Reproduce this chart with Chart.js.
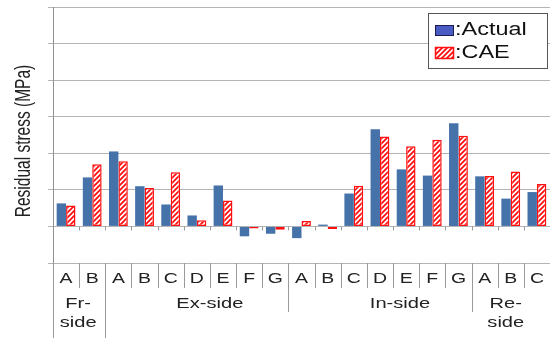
<!DOCTYPE html>
<html>
<head>
<meta charset="utf-8">
<script src="https://cdn.jsdelivr.net/npm/chart.js@4"></script>
<style>
  html, body { margin: 0; padding: 0; background: #fff; }
  #wrap { position: relative; width: 550px; height: 341px; }
</style>
</head>
<body>
<div id="wrap"><canvas id="chart" width="550" height="341"></canvas></div>
<script>
// --- data (1 unit = 1 gridline) ---
const categories = ['A','B','A','B','C','D','E','F','G','A','B','C','D','E','F','G','A','B','C'];
const groupNames = [['Fr-','side'], ['Ex-side'], ['In-side'], ['Re-','side']];
const groupSizes = [2, 7, 7, 3];
const actualValues = [0.63, 1.34, 2.05, 1.10, 0.60, 0.30, 1.12, -0.27, -0.20, -0.32, 0.05, 0.90, 2.66, 1.56, 1.39, 2.82, 1.37, 0.76, 0.94];
const caeValues = [0.57, 1.70, 1.78, 1.05, 1.48, 0.17, 0.71, -0.06, -0.09, 0.15, -0.07, 1.11, 2.46, 2.19, 2.37, 2.48, 1.38, 1.50, 1.16];
const seriesNames = [':Actual', ':CAE'];
const yTitle = 'Residual stress (MPa)';

const FONT = '"Liberation Sans", Arial, sans-serif';
const STRETCH = 1.34; // the source image is squeezed wider than tall

// layout tweaks for the group row (Excel doesn't quite center them)
const groupShift = [-1, 13, 20, -5];
const groupLineEnd = [338, 338, 312, 312];

// red "/" hatch like Excel's wide upward diagonal
function makeHatch() {
    const c = document.createElement('canvas');
    c.width = 5; c.height = 5;
    const g = c.getContext('2d');
    g.fillStyle = '#fff';
    g.fillRect(0, 0, 5, 5);
    g.strokeStyle = '#ff1010';
    g.lineWidth = 1.8;
    g.beginPath();
    g.moveTo(-1, 6); g.lineTo(6, -1);
    g.moveTo(-1, 1); g.lineTo(1, -1);
    g.moveTo(4, 6); g.lineTo(6, 4);
    g.stroke();
    return g.createPattern(c, 'repeat');
}
const hatch = makeHatch();

function stretchedText(ctx, txt, x, y, size, align) {
    ctx.save();
    ctx.translate(x, y);
    ctx.scale(STRETCH, 1);
    ctx.font = size + 'px ' + FONT;
    ctx.textAlign = align || 'center';
    ctx.textBaseline = 'alphabetic';
    ctx.fillText(txt, 0, 0);
    ctx.restore();
}

// axis labels under the plot, y title and the boxed legend
const decorations = {
    id: 'decorations',
    afterDraw(chart) {
        const ctx = chart.ctx;
        const x = chart.scales.x, y = chart.scales.y;
        const area = chart.chartArea;
        const step = x.getPixelForValue(1) - x.getPixelForValue(0);
        const edge = i => x.getPixelForValue(i) - step / 2;
        const y0 = y.getPixelForValue(0);

        ctx.save();
        ctx.strokeStyle = '#9a9a9a';
        ctx.lineWidth = 1;

        // short ticks under the zero line
        ctx.beginPath();
        for (let i = 1; i < categories.length; i++) {
            const px = Math.round(edge(i)) + 0.5;
            ctx.moveTo(px, y0); ctx.lineTo(px, y0 + 4);
        }
        ctx.stroke();

        // separators in the label area
        const groupStarts = [];
        let acc = 0;
        groupSizes.forEach(n => { groupStarts.push(acc); acc += n; });
        ctx.beginPath();
        for (let i = 0; i < categories.length; i++) {
            const px = Math.round(edge(i)) + 0.5;
            const g = groupStarts.indexOf(i);
            ctx.moveTo(px, area.bottom); ctx.lineTo(px, g >= 0 ? groupLineEnd[g] : 288);
        }
        ctx.stroke();

        // letters
        ctx.fillStyle = '#222';
        categories.forEach((c, i) => stretchedText(ctx, c, x.getPixelForValue(i), 283, 14.5));

        // group names
        groupNames.forEach((lines, g) => {
            const first = groupStarts[g], last = first + groupSizes[g] - 1;
            const cx = (x.getPixelForValue(first) + x.getPixelForValue(last)) / 2 + groupShift[g];
            lines.forEach((ln, k) => stretchedText(ctx, ln, cx, 308 + k * 19, 15));
        });

        // y title
        ctx.save();
        ctx.translate(24, 141);
        ctx.scale(1.4, 1);
        ctx.rotate(-Math.PI / 2);
        ctx.font = '15.5px ' + FONT;
        ctx.textAlign = 'center';
        ctx.textBaseline = 'middle';
        ctx.fillText(yTitle, 0, 0);
        ctx.restore();

        // legend
        ctx.fillStyle = '#fff';
        ctx.fillRect(428, 13, 120, 56);
        ctx.strokeStyle = '#555';
        ctx.strokeRect(428.5, 13.5, 119, 55);

        ctx.fillStyle = '#4a5cc4';
        ctx.fillRect(435, 25, 19, 11);
        ctx.strokeStyle = '#1c1c50';
        ctx.strokeRect(435.5, 25.5, 18, 10);

        ctx.fillStyle = hatch;
        ctx.fillRect(435, 47, 19, 12);
        ctx.strokeStyle = '#ff1010';
        ctx.lineWidth = 1.5;
        ctx.strokeRect(435.5, 47.5, 18, 11);

        ctx.fillStyle = '#111';
        stretchedText(ctx, seriesNames[0], 455, 35, 17.5, 'left');
        stretchedText(ctx, seriesNames[1], 455, 58, 17.5, 'left');
        ctx.restore();
    }
};

new Chart(document.getElementById('chart'), {
    type: 'bar',
    data: {
        labels: categories,
        datasets: [
            {
                label: seriesNames[0],
                data: actualValues,
                backgroundColor: '#4672aa',
                borderWidth: 0
            },
            {
                label: seriesNames[1],
                data: caeValues,
                backgroundColor: hatch,
                borderColor: '#ff1010',
                borderWidth: 1.5,
                borderSkipped: false
            }
        ]
    },
    options: {
        responsive: false,
        animation: false,
        devicePixelRatio: 1,
        categoryPercentage: 0.72,
        barPercentage: 1.0,
        layout: { padding: { left: 48, top: 7, right: 0, bottom: 78 } },
        plugins: {
            legend: { display: false },
            tooltip: { enabled: false }
        },
        scales: {
            x: {
                grid: { display: false, drawTicks: false },
                border: { display: false },
                ticks: { display: false }
            },
            y: {
                min: -1,
                max: 6,
                ticks: { display: false, stepSize: 1 },
                grid: { color: '#b4b4b4', lineWidth: 1, drawTicks: true, tickLength: 5 },
                border: { display: true, color: '#909090' }
            }
        }
    },
    plugins: [decorations]
});
</script>
</body>
</html>
